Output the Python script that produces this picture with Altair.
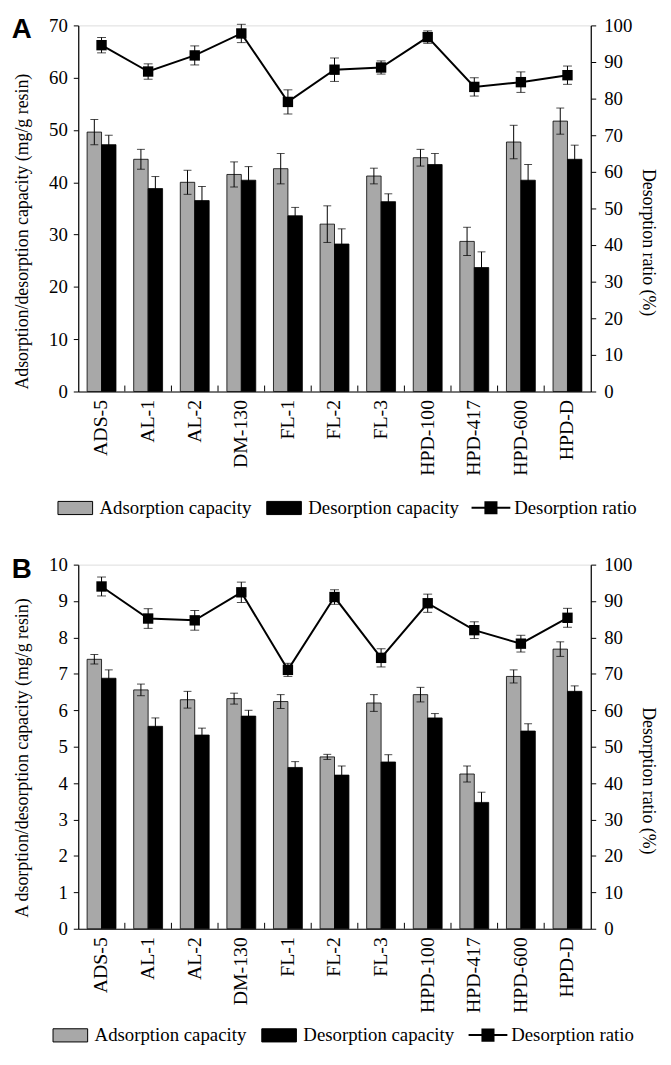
import altair as alt
import pandas as pd

resins = ["ADS-5", "AL-1", "AL-2", "DM-130", "FL-1", "FL-2", "FL-3",
          "HPD-100", "HPD-417", "HPD-600", "HPD-D"]
bar_series = ["Adsorption capacity", "Desorption capacity"]
ratio_name = "Desorption ratio"

# Panel A
ads_A = [49.6, 44.4, 40.0, 41.5, 42.6, 32.0, 41.2, 44.7, 28.7, 47.7, 51.7]
ads_A_err = [2.4, 1.9, 2.3, 2.4, 2.9, 3.5, 1.5, 1.6, 2.7, 3.2, 2.5]
des_A = [47.2, 38.8, 36.5, 40.4, 33.6, 28.2, 36.3, 43.4, 23.7, 40.4, 44.4]
des_A_err = [1.8, 2.3, 2.7, 2.6, 1.6, 2.9, 1.5, 2.1, 3.0, 3.0, 2.7]
ratio_A = [94.6, 87.4, 91.8, 97.8, 79.1, 87.9, 88.5, 96.8, 83.2, 84.5, 86.4]
ratio_A_err = [2.1, 2.1, 2.6, 2.5, 3.3, 3.2, 1.8, 1.7, 2.5, 2.8, 2.5]

# Panel B
ads_B = [7.40, 6.56, 6.29, 6.32, 6.24, 4.72, 6.20, 6.43, 4.25, 6.93, 7.68]
ads_B_err = [0.13, 0.16, 0.23, 0.15, 0.19, 0.07, 0.23, 0.20, 0.22, 0.18, 0.20]
des_B = [6.88, 5.56, 5.32, 5.84, 4.43, 4.22, 4.58, 5.79, 3.47, 5.43, 6.52]
des_B_err = [0.23, 0.23, 0.19, 0.16, 0.16, 0.25, 0.20, 0.12, 0.28, 0.20, 0.15]
ratio_B = [94.0, 85.2, 84.7, 92.4, 71.1, 91.1, 74.4, 89.4, 82.0, 78.3, 85.4]
ratio_B_err = [2.6, 2.7, 2.7, 2.8, 1.8, 2.0, 2.5, 2.5, 2.3, 2.3, 2.6]

SERIF = "Liberation Serif"
RECT_PATH = "M-2.5,-0.95H2.5V0.95H-2.5Z"
LINE_SQ_PATH = "M-2.8,0H2.8M-0.8,-0.8H0.8V0.8H-0.8Z"
PLOT_W = 518


def legend(symbol_path, lx, ly, sym_off, lab_off, **kw):
    return alt.Legend(orient="none", legendX=lx, legendY=ly,
                      direction="horizontal", title=None,
                      labelFont=SERIF, labelFontSize=19, labelColor="black",
                      symbolType=symbol_path, symbolSize=196, symbolOffset=sym_off,
                      labelOffset=lab_off, labelLimit=400, columnPadding=12, **kw)


def panel(letter, ads, ads_err, des, des_err, ratio, ratio_err,
          ymax, ystep, ytitle, w, h, left_title_y, right_title_y, leg_x, leg_y):
    bars_df = pd.DataFrame({
        "resin": resins * 2,
        "series": [bar_series[0]] * len(resins) + [bar_series[1]] * len(resins),
        "value": ads + des,
        "err": ads_err + des_err,
    })
    bars_df["lo"] = bars_df["value"] - bars_df["err"]
    bars_df["hi"] = bars_df["value"] + bars_df["err"]

    ratio_df = pd.DataFrame({"resin": resins, "ratio": ratio, "err": ratio_err})
    ratio_df["lo"] = ratio_df["ratio"] - ratio_df["err"]
    ratio_df["hi"] = ratio_df["ratio"] + ratio_df["err"]
    ratio_df["name"] = ratio_name

    x = alt.X("resin:N", sort=resins, title=None,
              scale=alt.Scale(paddingInner=0.38, paddingOuter=0.19),
              axis=alt.Axis(labelAngle=-90, labelFont=SERIF, labelFontSize=20,
                            labelColor="black", ticks=False, labelPadding=8,
                            domainColor="black", domainWidth=1.2))
    xo = alt.XOffset("series:N", sort=bar_series,
                     scale=alt.Scale(domain=bar_series, paddingInner=0, paddingOuter=0))

    axL = alt.Axis(values=list(range(0, ymax + 1, ystep)), title=ytitle, grid=False,
                   titleFont=SERIF, titleFontSize=18, titleFontWeight="normal",
                   titleColor="black", titleY=left_title_y,
                   labelFont=SERIF, labelFontSize=19, labelColor="black",
                   tickColor="black", tickSize=5, labelPadding=6,
                   domainColor="black", domainWidth=1.2, titlePadding=17)
    scL = alt.Scale(domain=[0, ymax], nice=False)

    axR = alt.Axis(values=list(range(0, 101, 10)), title="Desorption ratio (%)",
                   orient="right", grid=False,
                   titleFont=SERIF, titleFontSize=18, titleFontWeight="normal",
                   titleColor="black", titleY=right_title_y,
                   labelFont=SERIF, labelFontSize=19, labelColor="black",
                   tickColor="black", tickSize=5, labelPadding=8,
                   domainColor="black", domainWidth=1.2, titlePadding=7)
    scR = alt.Scale(domain=[0, 100], nice=False)

    base = alt.Chart(bars_df)
    bars = base.mark_bar(stroke="black", strokeWidth=0.8).encode(
        x=x, xOffset=xo,
        y=alt.Y("value:Q", scale=scL, axis=axL),
        fill=alt.Fill("series:N",
                      scale=alt.Scale(domain=bar_series, range=["#a8a8a8", "#000000"]),
                      legend=legend(RECT_PATH, leg_x[0], leg_y, 10.5, 15,
                                    symbolStrokeColor="black", symbolStrokeWidth=1)),
    )
    b_rule = base.mark_rule(color="black", strokeWidth=1).encode(
        x=x, xOffset=xo, y=alt.Y("lo:Q", scale=scL, axis=axL), y2="hi:Q")
    b_hi = base.mark_tick(color="black", size=8, thickness=1).encode(
        x=x, xOffset=xo, y=alt.Y("hi:Q", scale=scL, axis=axL))
    b_lo = base.mark_tick(color="black", size=8, thickness=1).encode(
        x=x, xOffset=xo, y=alt.Y("lo:Q", scale=scL, axis=axL))

    # category separator ticks on the x axis (pointing up, between categories)
    sep_ticks = alt.Chart(pd.DataFrame({"resin": resins[1:]})).mark_rule(
        color="black", strokeWidth=1, xOffset=-PLOT_W / len(resins) / 2,
    ).encode(x=x, y=alt.value(h), y2=alt.value(h - 6))

    letter_txt = alt.Chart(pd.DataFrame({"t": [letter]})).mark_text(
        font="Liberation Sans", fontWeight="bold", fontSize=28,
        align="center", baseline="middle", color="black",
    ).encode(text="t:N", x=alt.value(-57), y=alt.value(5))

    left = alt.layer(bars, b_rule, b_hi, b_lo, sep_ticks, letter_txt)

    rbase = alt.Chart(ratio_df)
    r_rule = rbase.mark_rule(color="black", strokeWidth=1).encode(
        x=x, y=alt.Y("lo:Q", scale=scR, axis=axR), y2="hi:Q")
    r_hi = rbase.mark_tick(color="black", size=9, thickness=1).encode(
        x=x, y=alt.Y("hi:Q", scale=scR, axis=axR))
    r_lo = rbase.mark_tick(color="black", size=9, thickness=1).encode(
        x=x, y=alt.Y("lo:Q", scale=scR, axis=axR))
    r_line = rbase.mark_line(strokeWidth=2).encode(
        x=x, y=alt.Y("ratio:Q", scale=scR, axis=axR),
        stroke=alt.Stroke("name:N",
                          scale=alt.Scale(domain=[ratio_name], range=["black"]),
                          legend=legend(LINE_SQ_PATH, leg_x[1], leg_y, 12.6, 14,
                                        symbolFillColor="black", symbolStrokeWidth=2)),
    )
    r_pts = rbase.mark_point(shape="square", filled=True, size=110, color="black", opacity=1).encode(
        x=x, y=alt.Y("ratio:Q", scale=scR, axis=axR))

    right = alt.layer(r_rule, r_hi, r_lo, r_line, r_pts)

    return alt.layer(left, right).resolve_scale(y="independent").properties(width=w, height=h)


pA = panel("A", ads_A, ads_A_err, des_A, des_A_err, ratio_A, ratio_A_err,
           70, 10, "Adsorption/desorption capacity (mg/g resin)", PLOT_W, 370, 208, 219,
           (-23, 395), 478)
pB = panel("B", ads_B, ads_B_err, des_B, des_B_err, ratio_B, ratio_B_err,
           10, 1, "A dsorption/desorption capacity (mg/g resin)", PLOT_W, 368, 195, 218,
           (-28, 392), 466)

chart = alt.vconcat(pA, pB, spacing=36).resolve_scale(
    fill="independent", stroke="independent", x="independent"
).properties(
    padding={"left": 3, "top": 2, "right": 6, "bottom": 2}
).configure_view(stroke=None).configure(background="white")

chart.save("out.html", embed_options={"renderer": "svg", "actions": False})
